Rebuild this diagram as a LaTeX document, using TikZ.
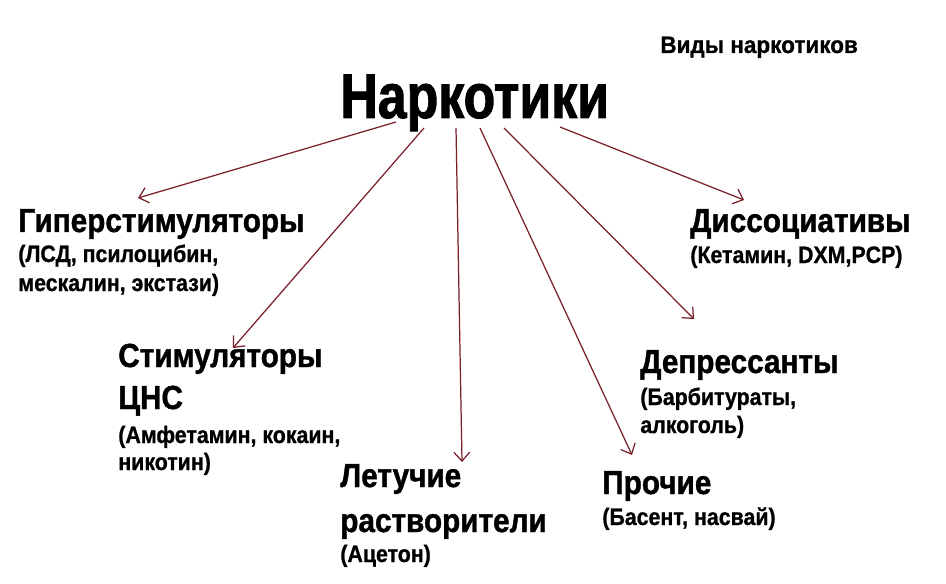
\documentclass[tikz,border=0pt]{standalone}
\usepackage{fontspec}
\setmainfont{Liberation Sans}[FakeStretch=0.82,FakeBold=1.5]
\newfontfamily\hdfont{Liberation Sans}[FakeStretch=0.89,FakeBold=1.2]
\newfontfamily\sbfont{Liberation Sans}[FakeStretch=0.9,FakeBold=0.9]
\newfontfamily\capfont{Liberation Sans}[FakeStretch=0.95,FakeBold=0.9]
\usetikzlibrary{calc,arrows.meta}
\definecolor{arrred}{RGB}{122,30,40}
\tikzset{
  ttl/.style={anchor=base west,inner sep=0pt,font=\bfseries\fontsize{36}{36}\selectfont},
  caption/.style={anchor=base west,inner sep=0pt,font=\capfont\bfseries\fontsize{13.5}{13.5}\selectfont},
  hd/.style={anchor=base west,inner sep=0pt,font=\hdfont\bfseries\fontsize{19}{19}\selectfont},
  sb/.style={anchor=base west,inner sep=0pt,font=\sbfont\bfseries\fontsize{13.5}{13.5}\selectfont},
  arr/.style={draw=arrred,line width=0.7pt,-{Straight Barb[length=5pt,width=9pt]}}
}
\begin{document}
\begin{tikzpicture}[x=0.02cm,y=-0.02cm]
      \fill[white](0,0)rectangle(946,584);
      \useasboundingbox(0,0)rectangle(946,584);
      \node[caption](vid)at(660,53){Виды наркотиков};
      \node[ttl](nark)at(340,118){Наркотики};
      \begin{scope}
        \node[hd](hyp)at(18,232){Гиперстимуляторы};
        \node[sb](hyp1)at(18,262){(ЛСД, псилоцибин,};
        \node[sb](hyp2)at(18,291){мескалин, экстази)};
        \node[hd](stim)at(118,367){Стимуляторы};
        \node[hd](stim1)at(118,409){ЦНС};
        \node[sb](stim2)at(118,443){(Амфетамин, кокаин,};
        \node[sb](stim3)at(118,470){никотин)};
        \node[hd](let)at(340,487){Летучие};
        \node[hd](let1)at(340,532){растворители};
        \node[sb](let2)at(340,562){(Ацетон)};
        \node[hd](dis)at(690,232){Диссоциативы};
        \node[sb](dis1)at(690,263){(Кетамин, DXM,PCP)};
        \node[hd](dep)at(640,373){Депрессанты};
        \node[sb](dep1)at(640,405){(Барбитураты,};
        \node[sb](dep2)at(640,433){алкоголь)};
        \node[hd](pro)at(602,494){Прочие};
        \node[sb](pro1)at(602,525){(Басент, насвай)};
      \end{scope}
      \draw[arr]($(nark.base west)+(56,4)$)--($(hyp.base west)+(120,-34)$);
      \draw[arr]($(nark.base west)+(84,10)$)--($(stim.base west)+(115,-19)$);
      \draw[arr]($(nark.base west)+(116,10)$)--($(let.base west)+(122,-25)$);
      \draw[arr]($(nark.base west)+(140,10)$)--($(pro.base west)+(30,-39)$);
      \draw[arr]($(nark.base west)+(164,10)$)--($(dep.base west)+(54,-54)$);
      \draw[arr]($(nark.base west)+(220,9)$)--($(dis.base west)+(54,-32)$);
    \end{tikzpicture}
\end{document}
